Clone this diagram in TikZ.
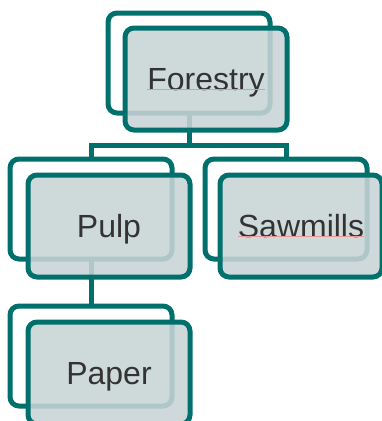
\documentclass[tikz,border=0pt]{standalone}
\usepackage{fontspec}
\setmainfont{Liberation Sans}
\usepackage{tikz}
\usetikzlibrary{positioning}
\definecolor{tealline}{RGB}{0,112,108}
\definecolor{boxfill}{RGB}{200,212,214}
\definecolor{textgray}{RGB}{51,51,51}
\definecolor{spellred}{RGB}{232,150,150}

\begin{document}
\begin{tikzpicture}[x=1pt,y=-1pt,
    backbox/.style={draw=tealline,line width=5pt,rounded corners=9pt,fill=white,
        minimum width=162pt,minimum height=100pt,inner sep=0pt,outer sep=0pt},
    frontbox/.style={draw=tealline,line width=5pt,rounded corners=9pt,fill=boxfill,fill opacity=0.88,
        minimum width=162pt,minimum height=102pt,inner sep=0pt,outer sep=0pt},
    label/.style={text=textgray,font=\fontsize{32}{38}\selectfont,inner sep=0pt,
        text height=23pt,text depth=0pt},
    link/.style={draw=tealline,line width=5pt},
    spell/.style={draw=spellred,line width=0.8pt}]
    \clip (0,0) rectangle (382,421);
    \useasboundingbox (0,0) rectangle (382,421);

    % 后面的框
    \node[backbox] (fb) at (189,63) {};
    \node[backbox] (pb) at (91,209) {};
    \node[backbox] (sb) at (286,209) {};
    \node[backbox] (ab) at (91,356) {};

    % 连线
    \draw[link] (fb.south) -- ++(0,32) -| (pb.north);
    \draw[link] (fb.south) -- ++(0,32) -| (sb.north);
    \draw[link] (pb.south) -- (ab.north);

    % 前面的框
    \node[frontbox] (ff) at (206,79) {};
    \node[frontbox] (pf) at (109,226) {};
    \node[frontbox] (sf) at (301,226) {};
    \node[frontbox] (af) at (109,373) {};

    % 文字
    \node[label] (ft) at (ff.center) {Forestry};
    \node[label] (pt) at (pf.center) {Pulp};
    \node[label] (st) at (sf.center) {Sawmills};
    \node[label] (at) at (af.center) {Paper};

    % 拼写下划线
    \draw[spell] ([yshift=1.5pt]ft.south west) -- ([yshift=1.5pt]ft.south east);
    \draw[spell] ([yshift=1.5pt]st.south west) -- ([yshift=1.5pt]st.south east);
\end{tikzpicture}
\end{document}
